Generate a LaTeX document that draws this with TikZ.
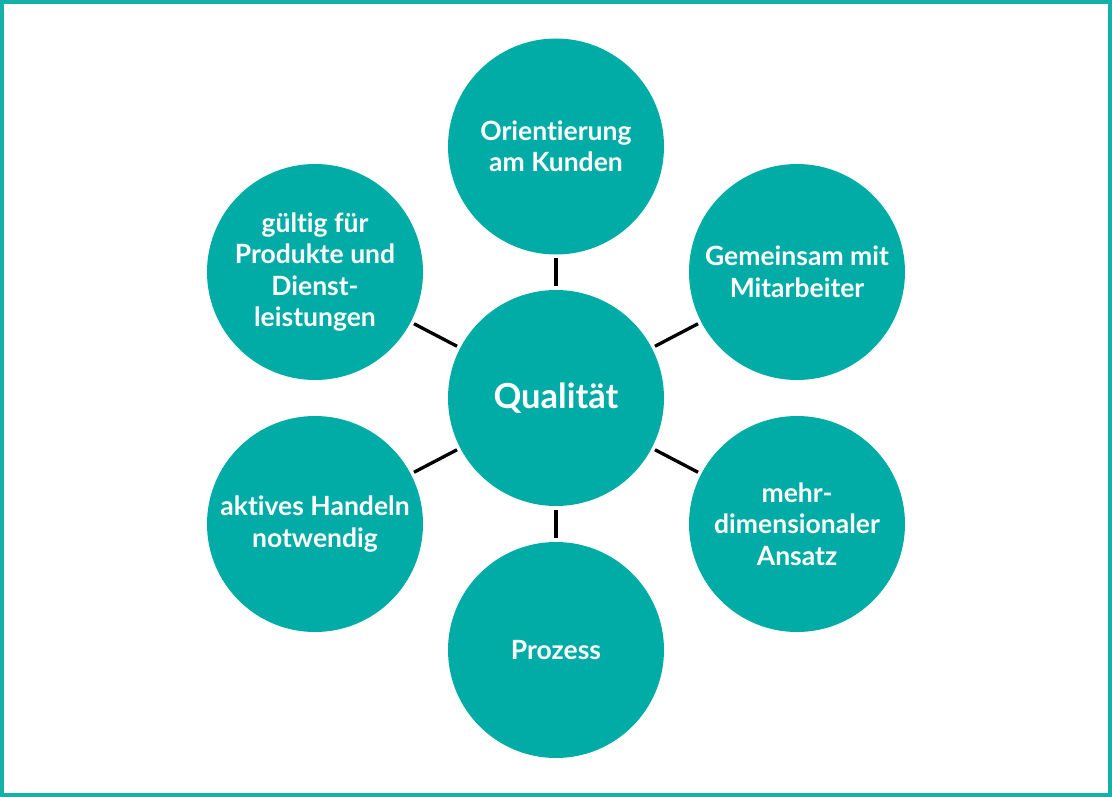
\documentclass[tikz,border=0pt]{standalone}
\usepackage{fontspec}
\setmainfont{Lato}[RawFeature={-liga}]
\definecolor{teal1}{HTML}{02ACA6}
\definecolor{frame1}{HTML}{14B1AB}
\begin{document}
\begin{tikzpicture}[x=1pt,y=-1pt,
  bubble/.style={circle,fill=teal1,minimum size=216pt,inner sep=0pt,text=white,
    align=center,font=\bfseries\fontsize{26.5}{31.5}\selectfont},
  hub/.style={bubble,font=\bfseries\fontsize{34.5}{40}\selectfont},
  link/.style={draw=black,line width=3.3pt,shorten <=3.5pt,shorten >=3.5pt}]
\useasboundingbox (0,0) rectangle (1112,797);
\draw[frame1,line width=3.6pt] (1.8,1.8) rectangle (1110.2,795.2);
\node[hub] (q) at (556,398) {Qualität};
\node[bubble] (top) at (556,146.5) {Orientierung\\am Kunden};
\node[bubble] (ur) at (797,272) {Gemeinsam mit\\Mitarbeiter};
\node[bubble] (lr) at (797,524) {mehr-\\dimensionaler\\Ansatz};
\node[bubble] (bot) at (556,650) {Prozess};
\node[bubble] (ll) at (315,524) {aktives Handeln\\notwendig};
\node[bubble] (ul) at (315,272) {gültig für\\Produkte und\\Dienst-\\leistungen};
\foreach \n in {top,ur,lr,bot,ll,ul} \draw[link] (q) -- (\n);
\end{tikzpicture}
\end{document}
